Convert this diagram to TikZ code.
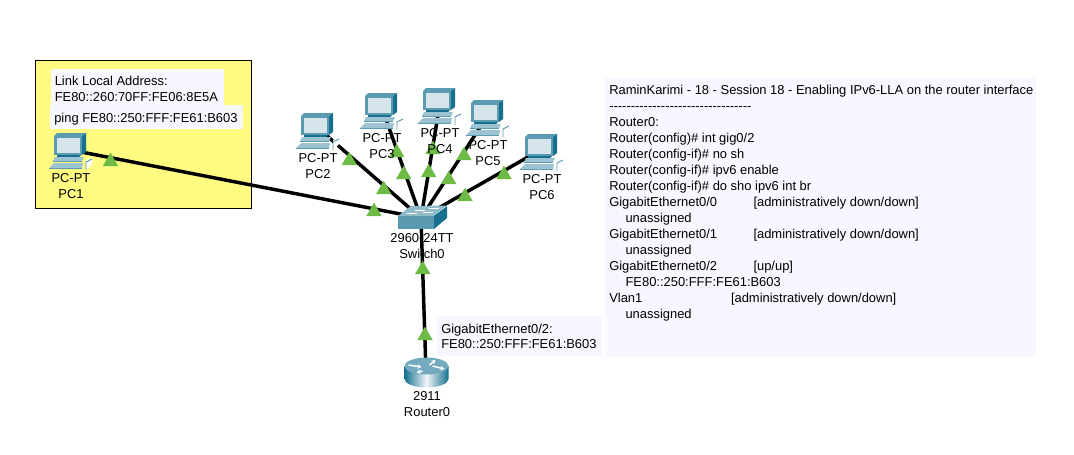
\documentclass[tikz,border=0pt]{standalone}
\usepackage{fontspec}
\usetikzlibrary{shapes.geometric,arrows.meta}
\newfontfamily\arialish{Liberation Sans}
\definecolor{notey}{HTML}{FFFB80}
\definecolor{pale}{HTML}{F7F8FF}
\definecolor{lamp}{HTML}{6DBB45}
\definecolor{tealdark}{HTML}{16708E}
\definecolor{tealmid}{HTML}{5A9BB2}
\definecolor{teallight}{HTML}{9CC3D2}
\definecolor{screenc}{HTML}{D6E4EC}
\tikzset{
  x=0.75pt,y=-0.75pt,
  every node/.style={font=\arialish\fontsize{9.7}{11.6}\selectfont,text=black,inner sep=0pt},
  spot/.style={minimum size=0pt,outer sep=0pt},
  link/.style={line width=2.6pt,black},
  lamp/.style={isosceles triangle,isosceles triangle stretches=true,shape border rotate=90,
    fill=lamp,minimum width=11.5pt,minimum height=10pt,anchor=apex},
  devlabel/.style={anchor=base,align=center},
  note/.style 2 args={anchor=north west,minimum width=#1*0.75pt,minimum height=#2*0.75pt},
  txt/.style={anchor=north west,align=left},
  pcicon/.pic={
    \fill[tealmid] (0,3)--(3,0)--(32,0)--(28,3)--cycle;
    \fill[tealmid] (0,3)--(28,3)--(28,22)--(0,22)--cycle;
    \fill[tealdark] (28,3)--(32,0)--(32,19)--(28,22)--cycle;
    \fill[screenc] (2.5,5)--(25.5,5)--(25.5,19.5)--(2.5,19.5)--cycle;
    \fill[tealdark] (3,22)--(27,22)--(25,24)--(3,24)--cycle;
    \fill[teallight] (1,24)--(30,24)--(28,28)--(-1,28)--cycle;
    \fill[tealmid] (-1,28)--(28,28)--(28,29)--(-1,29)--cycle;
    \fill[teallight] (0,30)--(29,30)--(28,35)--(-5,35)--cycle;
    \fill[tealmid] (-5,35)--(28,35)--(28,36)--(-5,36)--cycle;
    \fill[white] (32,27)--(38,25)--(38,31)--(32,37)--cycle;
    \draw[tealmid,line width=0.7pt] (32,37)--(32,29)--(38,26);
  },
  switchicon/.pic={
    \fill[teallight!80!tealmid] (-10,-12)--(25,-12.5)--(13,-2)--(-23,-2)--cycle;
    \fill[tealmid] (-23,-2)--(13,-2)--(13,11)--(-23,11)--cycle;
    \fill[tealdark] (13,-2)--(26,-12)--(26,0)--(13,11)--cycle;
    \draw[white,line width=0.6pt] (-6,-8)--(4,-8) (8,-10)--(18,-10) (-14,-5)--(-4,-5) (2,-6)--(12,-6);
  },
  routericon/.pic={
    \shade[left color=tealdark,right color=tealdark,middle color=white!85!teallight,shading angle=90]
      (-22,0)--(-22,13) arc[start angle=180,end angle=0,x radius=22,y radius=8.5]--(22,0)--cycle;
    \fill[tealmid!85!white] (0,0) ellipse[x radius=22,y radius=8.5];
    \draw[white,line width=1.1pt,-{Stealth[length=3pt,width=3.5pt]}] (-18,-1)--(-5,1);
    \draw[white,line width=1.1pt,-{Stealth[length=3pt,width=3.5pt]}] (-4,5)--(-10,6.5);
    \draw[white,line width=1.1pt,-{Stealth[length=3pt,width=3.5pt]}] (3,-1)--(9,-6);
    \draw[white,line width=1.1pt,-{Stealth[length=3pt,width=3.5pt]}] (6,0)--(18,3);
  },
}
\begin{document}
\begin{tikzpicture}
\useasboundingbox (0,0) rectangle (1074,454);
\fill[white] (0,0) rectangle (1074,454);
% note and text backgrounds
\node[note={216}{148},draw=black,line width=0.75pt,fill=notey] (notebox) at (34.7,60) {};
\node[note={173}{36},fill=pale] (llbox) at (51,69) {};
\node[note={193.5}{24},fill=pale] (pingbox) at (49.5,105) {};
\node[note={165}{40},fill=pale] (gigbox) at (437,316) {};
\node[note={431}{279},fill=pale] (panel) at (605,78) {};
% device anchors
\node[spot] (PC1) at (71,150) {};
\node[spot] (PC2) at (318,128) {};
\node[spot] (PC3) at (382,108) {};
\node[spot] (PC4) at (440,103) {};
\node[spot] (PC5) at (488,115) {};
\node[spot] (PC6) at (542,149) {};
\node[spot] (SW) at (421,218) {};
\node[spot] (R0) at (426,372) {};
% links
\draw[link] (PC1)--(SW);
\draw[link] (PC2)--(SW);
\draw[link] (PC3)--(SW);
\draw[link] (PC4)--(SW);
\draw[link] (PC5)--(SW);
\draw[link] (PC6)--(SW);
\draw[link] (SW)--(R0);
% link lights
\node[lamp] (la) at (110.5,152) {};
\node[lamp] (lb) at (349.3,151) {};
\node[lamp] (lc) at (383.7,180) {};
\node[lamp] (ld) at (374,202) {};
\node[lamp] (le) at (396.7,143) {};
\node[lamp] (lf) at (403.7,165) {};
\node[lamp] (lg) at (433,140) {};
\node[lamp] (lh) at (428.7,163) {};
\node[lamp] (li) at (464,146) {};
\node[lamp] (lj) at (448.7,170) {};
\node[lamp] (lk) at (504,165) {};
\node[lamp] (ll) at (465,187) {};
\node[lamp] (lm) at (422.7,260) {};
\node[lamp] (ln) at (425,326) {};
% icons
\pic at (54,133) {pcicon};
\pic at (301,113) {pcicon};
\pic at (365,93) {pcicon};
\pic at (423,88) {pcicon};
\pic at (471,100) {pcicon};
\pic at (525,134) {pcicon};
\pic at (421,218) {switchicon};
\pic at (426.5,366) {routericon};
% device labels
\node[devlabel] (t1a) at (71,182.5) {PC-PT};
\node[devlabel] (t1b) at (71,198.5) {PC1};
\node[devlabel] (t2a) at (318,162.5) {PC-PT};
\node[devlabel] (t2b) at (318,178.5) {PC2};
\node[devlabel] (t3a) at (382,142.5) {PC-PT};
\node[devlabel] (t3b) at (382,158.5) {PC3};
\node[devlabel] (t4a) at (440,137.5) {PC-PT};
\node[devlabel] (t4b) at (440,153.5) {PC4};
\node[devlabel] (t5a) at (488,149.5) {PC-PT};
\node[devlabel] (t5b) at (488,165.5) {PC5};
\node[devlabel] (t6a) at (542,183.5) {PC-PT};
\node[devlabel] (t6b) at (542,199.5) {PC6};
\node[devlabel] (t7a) at (422,242) {2960-24TT};
\node[devlabel] (t7b) at (422,258) {Switch0};
\node[devlabel] (t8a) at (427,400.5) {2911};
\node[devlabel] (t8b) at (427,416.5) {Router0};
% notes
\node[txt] (lltext) at (54.5,76) {Link Local Address:\\FE80::260:70FF:FE06:8E5A};
\node[txt] (pingtext) at (54,112.5) {ping FE80::250:FFF:FE61:B603};
\node[txt] (gigtext) at (441,323.5) {GigabitEthernet0/2:\\FE80::250:FFF:FE61:B603};
\node[txt,font=\arialish\fontsize{9.7}{12}\selectfont] (paneltext) at (609,84.5) {%
RaminKarimi - 18 - Session 18 - Enabling IPv6-LLA on the router interface\\
---------------------------------\\
Router0:\\
Router(config)\# int gig0/2\\
Router(config-if)\# no sh\\
Router(config-if)\# ipv6 enable\\
Router(config-if)\# do sho ipv6 int br\\
\makebox[108.2pt][l]{GigabitEthernet0/0}[administratively down/down]\\
\hspace*{12.2pt}unassigned\\
\makebox[108.2pt][l]{GigabitEthernet0/1}[administratively down/down]\\
\hspace*{12.2pt}unassigned\\
\makebox[108.2pt][l]{GigabitEthernet0/2}[up/up]\\
\hspace*{12.2pt}FE80::250:FFF:FE61:B603\\
\makebox[91.3pt][l]{Vlan1}[administratively down/down]\\
\hspace*{12.2pt}unassigned};
\end{tikzpicture}
\end{document}
